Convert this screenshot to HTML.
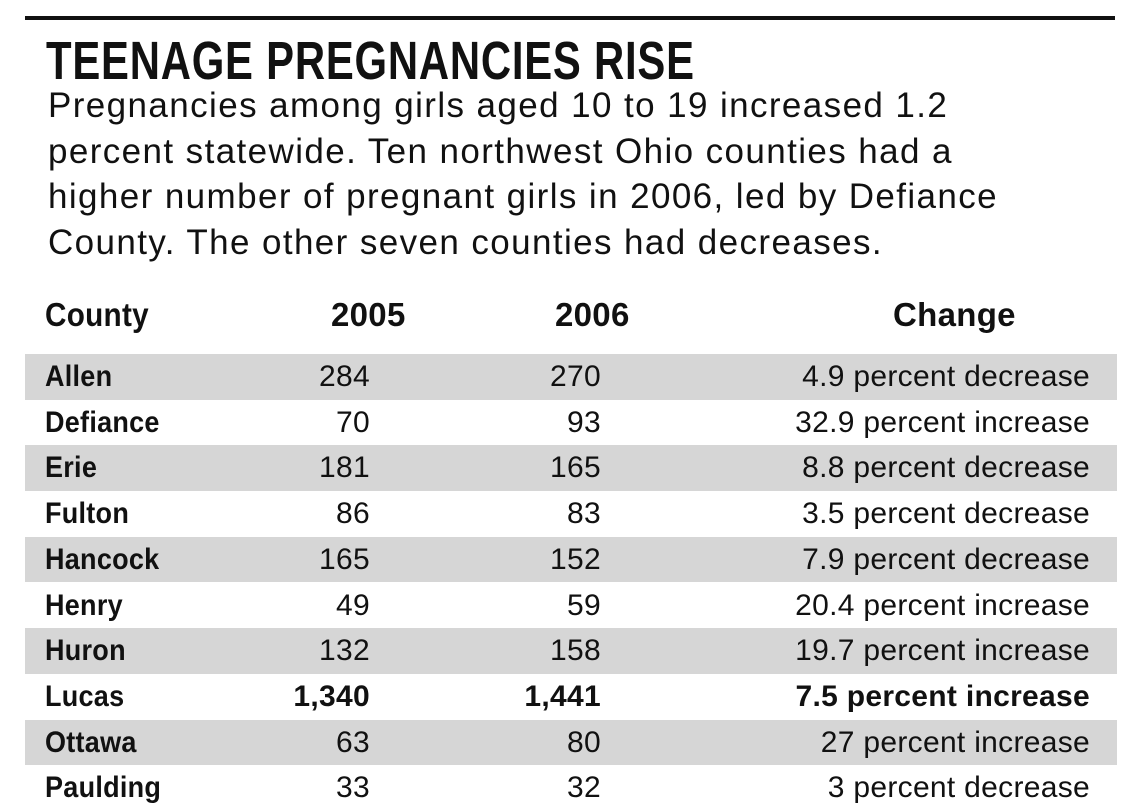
<!DOCTYPE html>
<html><head><meta charset="utf-8">
<style>
body{margin:0;width:1140px;height:798px;background:#fff;overflow:hidden;position:relative;font-family:"Liberation Sans",sans-serif;color:#111}
.rule{position:absolute;left:25px;top:16px;width:1090px;height:4px;background:#111}
.title{position:absolute;left:46px;top:30px;font-size:54px;font-weight:bold;white-space:nowrap;transform:scaleX(0.775);transform-origin:left top;letter-spacing:1px}
.sub{position:absolute;left:48px;top:83px;font-size:35px;line-height:45.5px;width:1090px;letter-spacing:1.4px}
.row{position:absolute;left:25px;width:1092px;height:45.7px;font-size:30px;letter-spacing:0.3px}
.row.g{background:#d6d6d6}
.row span{position:absolute;top:6px;white-space:nowrap}
.c1{left:20px;font-weight:bold;transform:scaleX(0.9);transform-origin:left}
.c2{right:747px}.c3{right:516px}.c4{right:27px}
.hdr span{font-weight:bold;font-size:33px;top:2px}
.b span{font-weight:bold}
</style></head><body>
<div class="rule"></div>
<div class="title">TEENAGE PREGNANCIES RISE</div>
<div class="sub">Pregnancies among girls aged 10 to 19 increased 1.2<br>percent statewide. Ten northwest Ohio counties had a<br>higher number of pregnant girls in 2006, led by Defiance<br>County. The other seven counties had decreases.</div>
<div class="row hdr" style="top:294px">
<span class="c1" style="left:20px">County</span><span style="left:306px">2005</span><span style="left:530px">2006</span><span style="left:868px">Change</span></div>
<div class="row g" style="top:354px"><span class="c1">Allen</span><span class="c2">284</span><span class="c3">270</span><span class="c4">4.9 percent decrease</span></div>
<div class="row" style="top:399.7px"><span class="c1">Defiance</span><span class="c2">70</span><span class="c3">93</span><span class="c4">32.9 percent increase</span></div>
<div class="row g" style="top:445.4px"><span class="c1">Erie</span><span class="c2">181</span><span class="c3">165</span><span class="c4">8.8 percent decrease</span></div>
<div class="row" style="top:491.1px"><span class="c1">Fulton</span><span class="c2">86</span><span class="c3">83</span><span class="c4">3.5 percent decrease</span></div>
<div class="row g" style="top:536.8px"><span class="c1">Hancock</span><span class="c2">165</span><span class="c3">152</span><span class="c4">7.9 percent decrease</span></div>
<div class="row" style="top:582.5px"><span class="c1">Henry</span><span class="c2">49</span><span class="c3">59</span><span class="c4">20.4 percent increase</span></div>
<div class="row g" style="top:628.2px"><span class="c1">Huron</span><span class="c2">132</span><span class="c3">158</span><span class="c4">19.7 percent increase</span></div>
<div class="row b" style="top:673.9px"><span class="c1">Lucas</span><span class="c2">1,340</span><span class="c3">1,441</span><span class="c4">7.5 percent increase</span></div>
<div class="row g" style="top:719.6px"><span class="c1">Ottawa</span><span class="c2">63</span><span class="c3">80</span><span class="c4">27 percent increase</span></div>
<div class="row" style="top:765.3px"><span class="c1">Paulding</span><span class="c2">33</span><span class="c3">32</span><span class="c4">3 percent decrease</span></div>
</body></html>
